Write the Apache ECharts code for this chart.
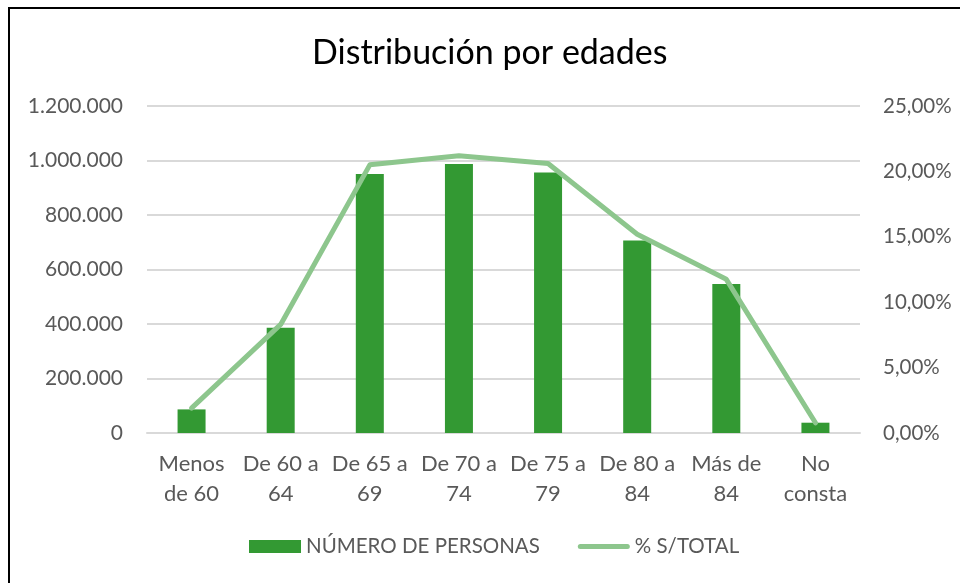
<!DOCTYPE html>
<html>
<head>
<meta charset="utf-8">
<script src="https://cdn.jsdelivr.net/npm/echarts@6/dist/echarts.min.js"></script>
<style>
html,body{margin:0;padding:0;background:#fff;overflow:hidden;}
#frame{position:absolute;left:8px;top:7px;width:1000px;height:700px;border:2px solid #000;box-sizing:border-box;}
#chart{position:absolute;left:0;top:0;width:960px;height:583px;}
</style>
</head>
<body>
<div id="frame"></div>
<div id="chart"></div>
<script>
const titleText = 'Distribución por edades';
const categories = ['Menos\nde 60', 'De 60 a\n64', 'De 65 a\n69', 'De 70 a\n74', 'De 75 a\n79', 'De 80 a\n84', 'Más de\n84', 'No\nconsta'];
const personas = [86600, 386400, 950500, 987000, 956300, 706800, 546800, 37800];
const pctTotal = [1.9, 8.3, 20.5, 21.2, 20.6, 15.2, 11.75, 0.78];
const seriesNames = ['NÚMERO DE PERSONAS', '% S/TOTAL'];

const FONT = 'Lato';
const GREY = '#595959';
const BAR_COLOR = '#339933';
const LINE_COLOR = '#8dc68d';

function fmtThousands(v){
  return String(Math.round(v)).replace(/\B(?=(\d{3})+(?!\d))/g, '.');
}

const chart = echarts.init(document.getElementById('chart'), null, {renderer:'canvas'});
chart.setOption({
  backgroundColor: 'transparent',
  animation: false,
  textStyle: {fontFamily: FONT},
  title: {
    text: titleText,
    left: 312,
    top: 36,
    padding: 0,
    textStyle: {fontFamily: FONT, fontSize: 34, fontWeight: 'normal', color: '#000'}
  },
  legend: {
    data: [
      {name: seriesNames[0], icon: 'rect'},
      {name: seriesNames[1], icon: 'path://M2.5,0 L49.5,0 A2.5,2.5 0 0 1 49.5,5 L2.5,5 A2.5,2.5 0 0 1 2.5,0 Z', itemStyle: {color: LINE_COLOR}}
    ],
    left: 249,
    top: 536,
    padding: 0,
    itemWidth: 52,
    itemHeight: 13,
    itemGap: 38,
    textStyle: {fontFamily: FONT, fontSize: 20.5, color: GREY}
  },
  grid: {left: 147, right: 100, top: 106, bottom: 150, containLabel: false},
  xAxis: {
    type: 'category',
    data: categories,
    axisLine: {lineStyle: {color: '#d9d9d9', width: 2}},
    axisTick: {show: false},
    axisLabel: {fontFamily: FONT, fontSize: 22, color: GREY, lineHeight: 30, margin: 16, interval: 0}
  },
  yAxis: [
    {
      type: 'value', min: 0, max: 1200000, interval: 200000,
      axisLine: {show: false}, axisTick: {show: false},
      splitLine: {lineStyle: {color: '#d9d9d9', width: 2}},
      axisLabel: {fontFamily: FONT, fontSize: 21, color: GREY, margin: 24, formatter: fmtThousands}
    },
    {
      type: 'value', min: 0, max: 25, interval: 5,
      axisLine: {show: false}, axisTick: {show: false},
      splitLine: {show: false},
      axisLabel: {fontFamily: FONT, fontSize: 20.5, color: GREY, margin: 23,
        formatter: v => v.toFixed(2).replace('.', ',') + '%'}
    }
  ],
  series: [
    {
      name: seriesNames[0], type: 'bar', data: personas, barWidth: 28,
      itemStyle: {color: BAR_COLOR}
    },
    {
      name: seriesNames[1], type: 'line', yAxisIndex: 1, data: pctTotal,
      symbol: 'none', showSymbol: false,
      lineStyle: {color: LINE_COLOR, width: 5, cap: 'round', join: 'round'},
      itemStyle: {color: LINE_COLOR}
    }
  ]
});
</script>
</body>
</html>
